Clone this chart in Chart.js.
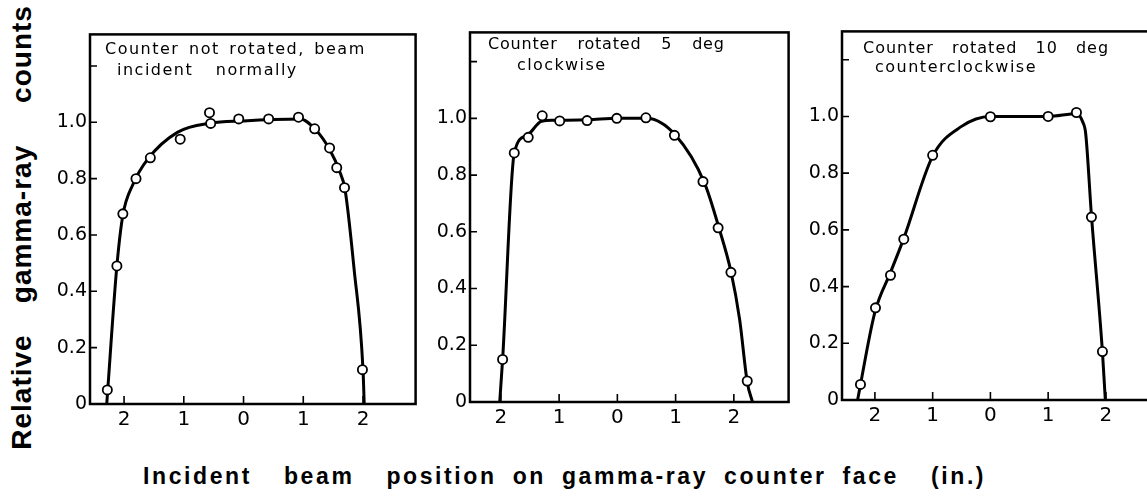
<!DOCTYPE html>
<html>
<head>
<meta charset="utf-8">
<script src="https://cdn.jsdelivr.net/npm/chart.js"></script>
<style>
body{margin:0;background:#fff;width:1147px;height:501px;overflow:hidden;position:relative;font-family:'DejaVu Sans',sans-serif;color:#000;}
.box{position:absolute;}
.note{position:absolute;font-family:'DejaVu Sans',sans-serif;font-size:16px;letter-spacing:1.5px;line-height:18px;white-space:pre;}
.yt{position:absolute;width:200px;height:36px;line-height:36px;text-align:center;transform:rotate(-90deg);font-family:'Liberation Sans',sans-serif;font-weight:bold;font-size:28px;letter-spacing:1px;white-space:pre;}
#xtitle{position:absolute;left:143px;top:461px;line-height:30px;font-family:'Liberation Sans',sans-serif;font-weight:bold;font-size:23px;letter-spacing:2.6px;word-spacing:7px;white-space:pre;}
</style>
</head>
<body>
<div class="box" style="left:40px;top:20px;width:382px;height:419px"><canvas id="c1"></canvas></div>
<div class="box" style="left:420px;top:18px;width:375px;height:419px"><canvas id="c2"></canvas></div>
<div class="box" style="left:792px;top:17px;width:374px;height:418px"><canvas id="c3"></canvas></div>

<div class="note" style="left:105px;top:40px;word-spacing:3px">Counter not rotated, beam</div>
<div class="note" style="left:117px;top:61px;word-spacing:16px">incident normally</div>
<div class="note" style="left:488px;top:35px;letter-spacing:0.8px;word-spacing:14px">Counter rotated 5 deg</div>
<div class="note" style="left:517px;top:56px;letter-spacing:1.4px">clockwise</div>
<div class="note" style="left:863px;top:39px;letter-spacing:1px;word-spacing:12px">Counter rotated 10 deg</div>
<div class="note" style="left:875px;top:58px">counterclockwise</div>

<div class="yt" style="left:-78px;top:374px">Relative</div>
<div class="yt" style="left:-78px;top:206px">gamma-ray</div>
<div class="yt" style="left:-78px;top:36px">counts</div>

<div id="xtitle">Incident  beam  position on gamma-ray counter face  (in.)</div>

<script>
// ticks shared by all three panels
var xTicks=[-2,-1,0,1,2];
var xLabels=['2','1','0','1','2'];
var yTicks=[0,0.2,0.4,0.6,0.8,1.0,1.2];
var yLabels=['0','0.2','0.4','0.6','0.8','1.0',''];

// panel 1 - counter not rotated, beam incident normally
var p1X=[-2.28,-2.12,-2.02,-1.80,-1.56,-1.06,-0.57,-0.55,-0.08,0.42,0.92,1.19,1.44,1.56,1.69,1.99];
var p1Y=[0.05,0.49,0.675,0.80,0.874,0.94,1.034,0.996,1.012,1.012,1.018,0.977,0.909,0.839,0.768,0.122];
var c1X=[-2.29,-2.12,-2.02,-1.85,-1.6,-1.1,-0.55,0,0.5,0.95,1.2,1.45,1.6,1.7,1.85,2.0,2.02];
var c1Y=[0,0.49,0.67,0.78,0.87,0.965,0.997,1.005,1.01,1.012,0.975,0.9,0.83,0.76,0.48,0.12,0];

// panel 2 - rotated 5 deg clockwise
var p2X=[-1.97,-1.77,-1.53,-1.29,-0.99,-0.52,-0.01,0.49,0.98,1.47,1.73,1.95,2.23];
var p2Y=[0.15,0.878,0.933,1.009,0.991,0.992,1.0,1.002,0.94,0.777,0.614,0.457,0.074];
var c2X=[-2.02,-1.97,-1.77,-1.55,-1.3,-1.1,-0.5,0,0.5,1.0,1.5,1.75,1.95,2.1,2.23,2.32];
var c2Y=[0,0.15,0.878,0.94,0.99,0.993,0.995,1.0,1.0,0.94,0.77,0.61,0.46,0.29,0.07,0];

// panel 3 - rotated 10 deg counterclockwise
var p3X=[-2.25,-1.99,-1.73,-1.5,-1.0,0,1.0,1.49,1.75,1.94];
var p3Y=[0.055,0.325,0.44,0.567,0.863,0.999,1.0,1.014,0.645,0.171];
var c3X=[-2.30,-2.0,-1.73,-1.5,-1.0,-0.5,0,1.0,1.5,1.6,1.65,1.75,1.94,1.99];
var c3Y=[0,0.31,0.45,0.57,0.86,0.965,1.0,1.0,1.01,0.98,0.94,0.65,0.17,0];

function zip(xs,ys){
  var out=[];
  for(var i=0;i<xs.length;i++) out.push({x:xs[i],y:ys[i]});
  return out;
}

// box round the plot + short inward ticks
var framePlugin={
  id:'frame',
  beforeDatasetsDraw:function(chart){
    var ctx=chart.ctx, a=chart.chartArea, x=chart.scales.x, y=chart.scales.y;
    ctx.save();
    ctx.strokeStyle='#000';
    ctx.lineWidth=2.5;
    ctx.strokeRect(a.left,a.top,a.right-a.left,a.bottom-a.top);
    ctx.lineWidth=1.6;
    ctx.beginPath();
    y.ticks.forEach(function(t){
      if(t.value===0) return;
      var py=y.getPixelForValue(t.value);
      ctx.moveTo(a.left,py); ctx.lineTo(a.left+7,py);
    });
    x.ticks.forEach(function(t){
      var px=x.getPixelForValue(t.value);
      ctx.moveTo(px,a.bottom); ctx.lineTo(px,a.bottom-8);
    });
    ctx.stroke();
    ctx.restore();
  }
};

function makeChart(id,px,py,cx,cy,xmin,xmax,ymax){
  return new Chart(document.getElementById(id),{
    type:'scatter',
    data:{
      datasets:[
        {data:zip(px,py),pointRadius:4.6,pointBorderWidth:1.8,pointBackgroundColor:'#fff',pointBorderColor:'#000',order:0},
        {data:zip(cx,cy),showLine:true,pointRadius:0,borderColor:'#000',borderWidth:3,cubicInterpolationMode:'monotone',order:1}
      ]
    },
    options:{
      responsive:true,
      maintainAspectRatio:false,
      animation:false,
      events:[],
      layout:{padding:{top:10,right:5,left:0,bottom:0}},
      plugins:{legend:{display:false},tooltip:{enabled:false}},
      scales:{
        x:{
          type:'linear',min:xmin,max:xmax,
          grid:{display:false,drawTicks:false},
          border:{display:false},
          afterBuildTicks:function(s){s.ticks=xTicks.map(function(v){return {value:v};});},
          afterFit:function(s){s.height=35;},
          ticks:{padding:4,color:'#000',font:{family:'DejaVu Sans',size:20},
            callback:function(v,i){return xLabels[i];}}
        },
        y:{
          type:'linear',min:0,max:ymax,
          grid:{display:false,drawTicks:false},
          border:{display:false},
          afterBuildTicks:function(s){s.ticks=yTicks.map(function(v){return {value:v};});},
          afterFit:function(s){s.width=50;},
          ticks:{padding:3,color:'#000',font:{family:'DejaVu Sans',size:19},
            callback:function(v,i){return yLabels[i];}}
        }
      }
    },
    plugins:[framePlugin]
  });
}

makeChart('c1',p1X,p1Y,c1X,c1Y,-2.57,2.88,1.312);
makeChart('c2',p2X,p2Y,c2X,c2Y,-2.53,2.94,1.303);
makeChart('c3',p3X,p3Y,c3X,c3Y,-2.57,2.93,1.30);
</script>
</body>
</html>
